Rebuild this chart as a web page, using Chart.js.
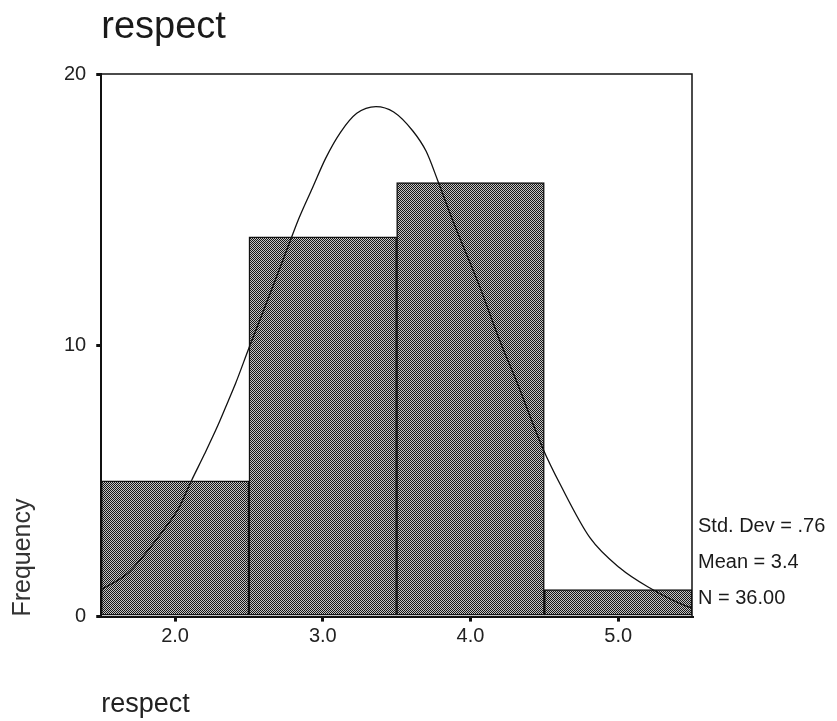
<!DOCTYPE html>
<html>
<head>
<meta charset="utf-8">
<title>respect</title>
<script src="https://cdn.jsdelivr.net/npm/chart.js@4.4.1/dist/chart.umd.min.js"></script>
<style>
  html, body { margin: 0; padding: 0; background: #fff; }
  #wrap { width: 837px; height: 721px; }
</style>
</head>
<body>
<div id="wrap"><canvas id="histChart" width="837" height="721"></canvas></div>
<script>
// Histogram of "respect" with a fitted normal curve
const binCenters = [2.0, 3.0, 4.0, 5.0];
const frequencies = [5, 14, 16, 1];
const xTickLabels = ['2.0', '3.0', '4.0', '5.0'];
const yTickValues = [0, 10, 20];

// Normal curve, read point by point
const curveX = [1.5, 1.68, 1.81, 1.95, 2.02, 2.11, 2.20, 2.29, 2.36, 2.41, 2.5, 2.65, 2.79, 2.84, 2.93, 3.02, 3.12,
  3.23, 3.36, 3.48, 3.61, 3.70, 3.78, 3.88, 4.06, 4.20, 4.31, 4.49, 4.61, 4.81, 5.01, 5.20, 5.47, 5.5];
const curveY = [1.0, 1.6, 2.4, 3.4, 3.95, 5.0, 6.0, 7.05, 7.95, 8.6, 9.9, 12.0, 14.0, 14.7, 15.8, 16.9, 17.85,
  18.55, 18.8, 18.6, 17.9, 17.15, 16.05, 14.6, 12.2, 10.15, 8.7, 6.2, 4.85, 2.9, 1.8, 1.1, 0.37, 0.33];

const chartTitle = 'respect';
const statLines = ['Std. Dev = .76', 'Mean = 3.4', 'N = 36.00'];

// Fine checker fill for the bars
function makeChecker() {
  const c = document.createElement('canvas');
  c.width = 2; c.height = 2;
  const g = c.getContext('2d');
  g.fillStyle = '#c4c4c4';
  g.fillRect(0, 0, 2, 2);
  g.fillStyle = '#151515';
  g.fillRect(0, 0, 1, 1);
  g.fillRect(1, 1, 1, 1);
  return g.createPattern(c, 'repeat');
}

// Frame, title above the plot and the stats block on the right
const extrasPlugin = {
  id: 'extras',
  afterDatasetsDraw(chart) {
    const { ctx, chartArea } = chart;
    ctx.save();
    ctx.strokeStyle = '#111';
    ctx.lineWidth = 1.5;
    ctx.beginPath();
    ctx.moveTo(chartArea.left, chartArea.top);
    ctx.lineTo(chartArea.right, chartArea.top);
    ctx.lineTo(chartArea.right, chartArea.bottom);
    ctx.stroke();

    ctx.fillStyle = '#1a1a1a';
    ctx.font = '38px "Liberation Sans", Arial, sans-serif';
    ctx.textBaseline = 'alphabetic';
    ctx.textAlign = 'left';
    ctx.fillText(chartTitle, chartArea.left, 38);

    ctx.font = '20px "Liberation Sans", Arial, sans-serif';
    ctx.textBaseline = 'middle';
    statLines.forEach((s, i) => {
      ctx.fillText(s, chartArea.right + 6, chartArea.bottom - 90 + i * 36);
    });
    ctx.restore();
  }
};

const ctx = document.getElementById('histChart').getContext('2d');
const chart = new Chart(ctx, {
  data: {
    datasets: [
      {
        type: 'line',
        label: 'Normal',
        data: curveX.map((x, i) => ({ x: x, y: curveY[i] })),
        borderColor: '#111',
        borderWidth: 1.3,
        pointRadius: 0,
        cubicInterpolationMode: 'monotone',
        fill: false,
        order: 0
      },
      {
        type: 'bar',
        label: 'Frequency',
        data: binCenters.map((x, i) => ({ x: x, y: frequencies[i] })),
        backgroundColor: makeChecker(),
        borderColor: '#111',
        borderWidth: 1.5,
        borderSkipped: false,
        barPercentage: 1,
        categoryPercentage: 1,
        order: 1
      }
    ]
  },
  options: {
    responsive: false,
    animation: false,
    layout: { padding: { top: 74, left: 4, right: 145, bottom: 0 } },
    plugins: {
      legend: { display: false },
      tooltip: { enabled: false }
    },
    scales: {
      x: {
        type: 'linear',
        min: 1.5,
        max: 5.5,
        offset: false,
        afterBuildTicks: axis => { axis.ticks = binCenters.map(v => ({ value: v })); },
        ticks: {
          color: '#222',
          font: { size: 20, family: '"Liberation Sans", Arial, sans-serif' },
          padding: 3,
          callback: (v, i) => xTickLabels[i]
        },
        grid: { offset: false, drawOnChartArea: false, drawTicks: true, tickLength: 5, lineWidth: 3, color: '#111' },
        border: { display: true, color: '#111', width: 2 },
        title: {
          display: true,
          text: 'respect',
          align: 'start',
          color: '#222',
          font: { size: 27, family: '"Liberation Sans", Arial, sans-serif' },
          padding: { top: 37, bottom: 0 }
        }
      },
      y: {
        min: 0,
        max: 20,
        afterBuildTicks: axis => { axis.ticks = yTickValues.map(v => ({ value: v })); },
        ticks: {
          color: '#222',
          font: { size: 20, family: '"Liberation Sans", Arial, sans-serif' },
          padding: 10
        },
        grid: { drawOnChartArea: false, drawTicks: true, tickLength: 5, lineWidth: 3, color: '#111' },
        border: { display: true, color: '#111', width: 2 },
        title: {
          display: true,
          text: 'Frequency',
          align: 'start',
          color: '#333',
          font: { size: 25, family: '"Liberation Sans", Arial, sans-serif' },
          padding: { top: 4, bottom: 16 }
        }
      }
    }
  },
  plugins: [extrasPlugin]
});
</script>
</body>
</html>
